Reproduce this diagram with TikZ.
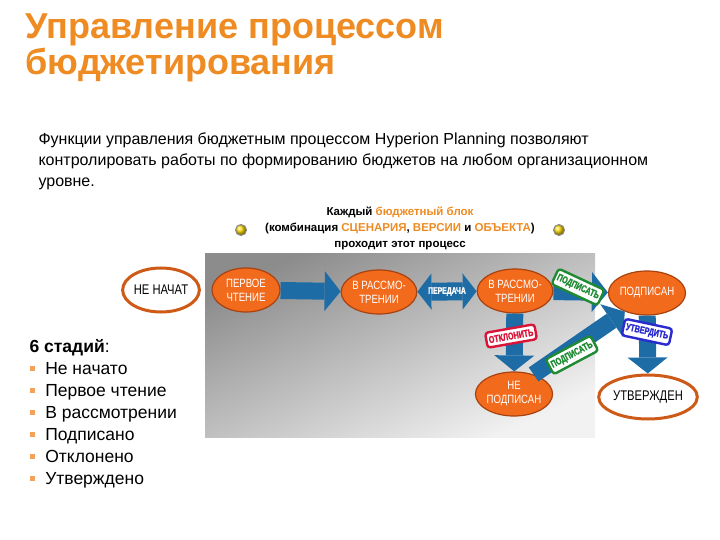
\documentclass[tikz,border=0pt]{standalone}
\usepackage{fontspec}
\setmainfont{Liberation Sans}
\newfontfamily\narrowfont[FakeStretch=0.8]{Liberation Sans}
\newfontfamily\stampfont[FakeStretch=0.72,FakeBold=1.5]{Liberation Sans}
\usetikzlibrary{shapes.geometric,arrows.meta}

\definecolor{titleorange}{HTML}{EE8B22}
\definecolor{stageorange}{HTML}{F26A1C}
\definecolor{stageedge}{HTML}{A8420F}
\definecolor{flowblue}{HTML}{1D6CA6}
\definecolor{stampgreen}{HTML}{1E8A32}
\definecolor{stampred}{HTML}{D81438}
\definecolor{stampblue}{HTML}{2A2ACF}
\definecolor{bulletorange}{HTML}{F2A25A}

\newcommand\sq{\textcolor{bulletorange}{\rule[0.2em]{0.3em}{0.3em}}\hspace{0.6em}}

\tikzset{
  stage/.style={ellipse, draw=stageedge, line width=1.2pt, fill=stageorange,
    text=white, align=center, inner sep=0pt, minimum width=68pt,
    minimum height=44pt, font=\narrowfont\fontsize{12}{14}\selectfont},
  endstage/.style={stage, fill=white, draw=stageorange!85!black,
    line width=3pt, text=black, minimum width=72pt,
    font=\narrowfont\fontsize{14}{15}\selectfont},
  flow/.style={line width=17pt, flowblue,
    -{Triangle[length=16pt,width=40pt,line width=0pt]}},
  pass/.style={line width=18pt, flowblue,
    {Triangle[length=14pt,width=36pt,line width=0pt]}-{Triangle[length=14pt,width=36pt,line width=0pt]}},
  stamp/.style={draw=#1, text=#1, fill=white, line width=2.4pt, rounded corners=3pt,
    inner xsep=2.5pt, inner ysep=4pt, font=\stampfont\bfseries\fontsize{10}{10}\selectfont},
  bulb/.style={circle, draw=black!45, line width=1pt, inner sep=0pt,
    minimum size=11pt, ball color=yellow!70!orange},
}

\begin{document}
\begin{tikzpicture}[x=1pt,y=-1pt]
  \useasboundingbox (0,0) rectangle (720,540);

  % title and intro
  \node[anchor=north west, align=left, text=titleorange,
    font=\bfseries\fontsize{36}{36}\selectfont] (title) at (22,10)
    {Управление процессом\\бюджетирования};
  \node[anchor=north west, align=left, font=\fontsize{16}{21}\selectfont] (intro) at (35,129)
    {Функции управления бюджетным процессом Hyperion Planning позволяют\\
     контролировать работы по формированию бюджетов на любом организационном\\
     уровне.};

  % grey panel
  \shade[top color=black!45, bottom color=black!5, shading angle=25]
    (205,253) rectangle (595,437);

  % header
  \node[align=center, font=\bfseries\fontsize{11.5}{16}\selectfont] (head) at (400,228)
    {Каждый \textcolor{titleorange}{бюджетный блок}\\
     (комбинация \textcolor{titleorange}{СЦЕНАРИЯ}, \textcolor{titleorange}{ВЕРСИИ}
     и \textcolor{titleorange}{ОБЪЕКТА})\\
     проходит этот процесс};
  \node[bulb] (lbulb) at (241,230) {};
  \node[bulb] (rbulb) at (559,230) {};

  % stages
  \node[endstage] (start) at (161,290) {НЕ НАЧАТ};
  \node[stage] (first) at (246,290) {ПЕРВОЕ\\ЧТЕНИЕ};
  \node[stage] (review1) at (379,292) {В РАССМО-\\ТРЕНИИ};
  \node[stage] (review2) at (515,291) {В РАССМО-\\ТРЕНИИ};
  \node[stage] (signed) at (647,293) {ПОДПИСАН};
  \node[stage] (unsigned) at (514,394) {НЕ\\ПОДПИСАН};
  \node[endstage] (approved) at (648,397) {УТВЕРЖДЕН};

  % flows
  \draw[flow] (first) -- (review1);
  \draw[pass] (review1) -- (review2)
    node[midway, text=white, font=\stampfont\bfseries\fontsize{9.5}{9.5}\selectfont] (handover) {ПЕРЕДАЧА};
  \draw[flow] (review2) -- (signed);
  \draw[flow] (review2) -- (unsigned);
  \draw[flow] (unsigned.45) -- (signed.220);
  \draw[flow] (signed) -- (approved);

  % stamps
  \node[stamp=stampgreen, rotate=-25] (sign1) at (578,287) {ПОДПИСАТЬ};
  \node[stamp=stampred, rotate=10] (reject) at (511,336) {ОТКЛОНИТЬ};
  \node[stamp=stampgreen, rotate=28] (sign2) at (572,355) {ПОДПИСАТЬ};
  \node[stamp=stampblue, rotate=-12] (confirm) at (647,332) {УТВЕРДИТЬ};

  % stage list
  \node[anchor=north west, align=left, font=\fontsize{17.5}{22}\selectfont] (stages) at (26,336)
    {\textbf{6 стадий}:\\
     \sq Не начато\\
     \sq Первое чтение\\
     \sq В рассмотрении\\
     \sq Подписано\\
     \sq Отклонено\\
     \sq Утверждено};
\end{tikzpicture}
\end{document}
